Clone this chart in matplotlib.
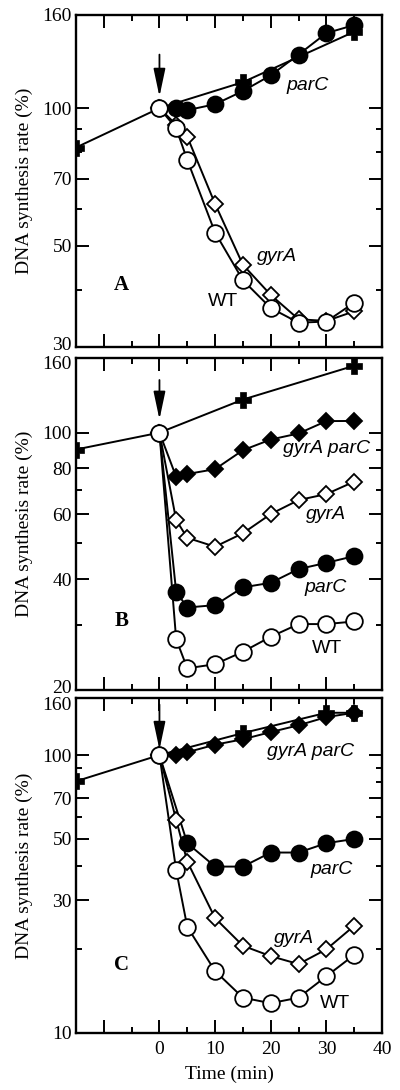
import matplotlib
matplotlib.use('Agg')
import matplotlib.pyplot as plt
from matplotlib.ticker import FixedLocator, NullFormatter
from matplotlib.transforms import ScaledTranslation

t = [0, 3, 5, 10, 15, 20, 25, 30, 35]
t_late = [0, 5, 10, 15, 20, 25, 30, 35]

# panel A
ctrl_t_a = [-15, 0, 15, 35]
ctrl_a = [82, 100, 114, 147]
parc_a = [100, 100, 99, 102, 109, 118, 131, 146, 152]
gyra_a = [100, 92, 86.6, 61.7, 45.4, 39, 34.5, 34.2, 35.9]
wt_a = [100, 90.4, 77, 53.4, 42, 36.5, 33.9, 34.1, 37.5]

# panel B
ctrl_t_b = [-15, 0, 15, 35]
ctrl_b = [90, 100, 123, 152]
gp_b = [100, 75.9, 77.2, 79.6, 89.6, 95.8, 99.5, 107.5, 107.6]
gyra_b = [100, 57.9, 51.8, 49, 53.3, 60.1, 65.6, 68.1, 73.6]
parc_b = [100, 37, 33.5, 34, 38, 39.1, 42.6, 44.3, 46.2]
wt_b = [100, 27.5, 22.9, 23.5, 25.4, 27.9, 30.2, 30.2, 30.7]

# panel C
ctrl_t_c = [-15, 0, 15, 30, 35]
ctrl_c = [80.5, 100, 120, 142, 142]
gp_c = [100, 100, 102.4, 109, 114, 121, 128, 137, 142]
parc_c = [100, 48.2, 39.7, 39.7, 44.6, 44.6, 48.2, 49.9]
gyra_c = [100, 58.5, 41.4, 25.9, 20.6, 18.9, 17.7, 20, 24.3]
wt_c = [100, 38.6, 24.1, 16.7, 13.4, 12.8, 13.4, 16.0, 19.1]

ylims = [(30, 160), (20, 160), (10, 160)]
ymajor = [[30, 50, 70, 100, 160], [20, 40, 60, 80, 100, 160], [10, 30, 50, 70, 100, 160]]
yminor = [[40, 60, 80, 90], [30, 50, 70, 90], [20, 40, 60, 80, 90]]
arrows = [(131, 106), (139, 108.6), (152, 104.6)]
letters = ['A', 'B', 'C']

SERIF = 'Liberation Serif'
SANS = 'Liberation Sans'

fig = plt.figure(figsize=(4.0, 10.9), dpi=100)
boxes = [[0.19, 0.6817, 0.765, 0.3046],
         [0.19, 0.367, 0.765, 0.305],
         [0.19, 0.0523, 0.765, 0.307]]
axes = [fig.add_axes(b) for b in boxes]

lw = 1.4
mew = 1.3


def cross(ax, x, y):
    ax.plot(x, y, '-', color='k', lw=lw, marker='P', ms=12, mfc='k', mec='k', mew=0.5, zorder=2)


def filled_circle(ax, y, x=t):
    ax.plot(x, y, '-', color='k', lw=lw, marker='o', ms=11.5, mfc='k', mec='k', mew=mew, zorder=3)


def open_circle(ax, y):
    ax.plot(t, y, '-', color='k', lw=lw, marker='o', ms=12, mfc='white', mec='k', mew=mew, zorder=5)


def open_diamond(ax, y):
    ax.plot(t, y, '-', color='k', lw=lw, marker='D', ms=8, mfc='white', mec='k', mew=mew, zorder=4)


def filled_diamond(ax, y):
    ax.plot(t, y, '-', color='k', lw=lw, marker='D', ms=8, mfc='k', mec='k', mew=mew, zorder=3)


# A
ax = axes[0]
cross(ax, ctrl_t_a, ctrl_a)
filled_circle(ax, parc_a)
open_diamond(ax, gyra_a)
open_circle(ax, wt_a)
ax.text(26.7, 112, 'parC', fontsize=14, family=SANS, style='italic', ha='center', va='center')
ax.text(21.1, 47.3, 'gyrA', fontsize=14, family=SANS, style='italic', ha='center', va='center')
ax.text(11.4, 37.7, 'WT', fontsize=14, family=SANS, ha='center', va='center')

# B
ax = axes[1]
cross(ax, ctrl_t_b, ctrl_b)
filled_diamond(ax, gp_b)
open_diamond(ax, gyra_b)
filled_circle(ax, parc_b)
open_circle(ax, wt_b)
ax.text(30.1, 90.6, 'gyrA parC', fontsize=14, family=SANS, style='italic', ha='center', va='center')
ax.text(29.9, 60.1, 'gyrA', fontsize=14, family=SANS, style='italic', ha='center', va='center')
ax.text(29.9, 38, 'parC', fontsize=14, family=SANS, style='italic', ha='center', va='center')
ax.text(30.1, 26, 'WT', fontsize=14, family=SANS, ha='center', va='center')

# C
ax = axes[2]
filled_circle(ax, parc_c, t_late)
cross(ax, ctrl_t_c, ctrl_c)
filled_diamond(ax, gp_c)
open_diamond(ax, gyra_c)
open_circle(ax, wt_c)
ax.text(27.1, 103, 'gyrA parC', fontsize=14, family=SANS, style='italic', ha='center', va='center')
ax.text(31, 38.9, 'parC', fontsize=14, family=SANS, style='italic', ha='center', va='center')
ax.text(24.1, 21.9, 'gyrA', fontsize=14, family=SANS, style='italic', ha='center', va='center')
ax.text(31.6, 12.8, 'WT', fontsize=14, family=SANS, ha='center', va='center')

for i, ax in enumerate(axes):
    ax.set_yscale('log')
    ax.set_xlim(-15, 40)
    ax.set_ylim(*ylims[i])
    ax.yaxis.set_major_locator(FixedLocator(ymajor[i]))
    ax.yaxis.set_minor_locator(FixedLocator(yminor[i]))
    ax.set_yticklabels([str(v) for v in ymajor[i]], family=SERIF, fontsize=14)
    ax.yaxis.set_minor_formatter(NullFormatter())
    ax.xaxis.set_major_locator(FixedLocator([-10, 0, 10, 20, 30, 40]))
    ax.xaxis.set_minor_locator(FixedLocator([-5, 5, 15, 25, 35]))
    if i == 2:
        ax.set_xticklabels(['', '0', '10', '20', '30', '40'], family=SERIF, fontsize=14)
        ax.set_xlabel('Time (min)', family=SERIF, fontsize=14, labelpad=5)
    else:
        ax.set_xticklabels([])
    ax.tick_params(which='major', direction='in', length=9.5, width=1.4,
                   top=True, right=True, pad=3)
    ax.tick_params(which='minor', direction='in', length=4, width=1.4,
                   top=True, right=True)
    ax.tick_params(axis='x', which='major', pad=6)
    for s in ax.spines.values():
        s.set_linewidth(1.7)
    ax.set_ylabel('DNA synthesis rate (%)', family=SERIF, fontsize=14)
    ax.yaxis.set_label_coords(-0.14, 0.5)
    a0, a1 = arrows[i]
    ax.annotate('', xy=(0, a1), xytext=(0, a0),
                arrowprops=dict(arrowstyle='-|>,head_length=1.7,head_width=0.36',
                                color='k', lw=1.3, shrinkA=0, shrinkB=0), zorder=6)
    ax.text(-6.8, [41, 30.7, 17.5][i], letters[i], family=SERIF, fontweight='bold',
            fontsize=15, ha='center', va='center')

# keep the bottom/top labels of neighbouring panels apart
ticks = [ax.yaxis.get_major_ticks() for ax in axes]
for tk, dy in [(ticks[0][0], 3), (ticks[1][0], 3), (ticks[1][-1], -5), (ticks[2][-1], -5)]:
    lab = tk.label1
    lab.set_transform(lab.get_transform() + ScaledTranslation(0, dy / 100, fig.dpi_scale_trans))

fig.savefig('out.png', dpi=100)
